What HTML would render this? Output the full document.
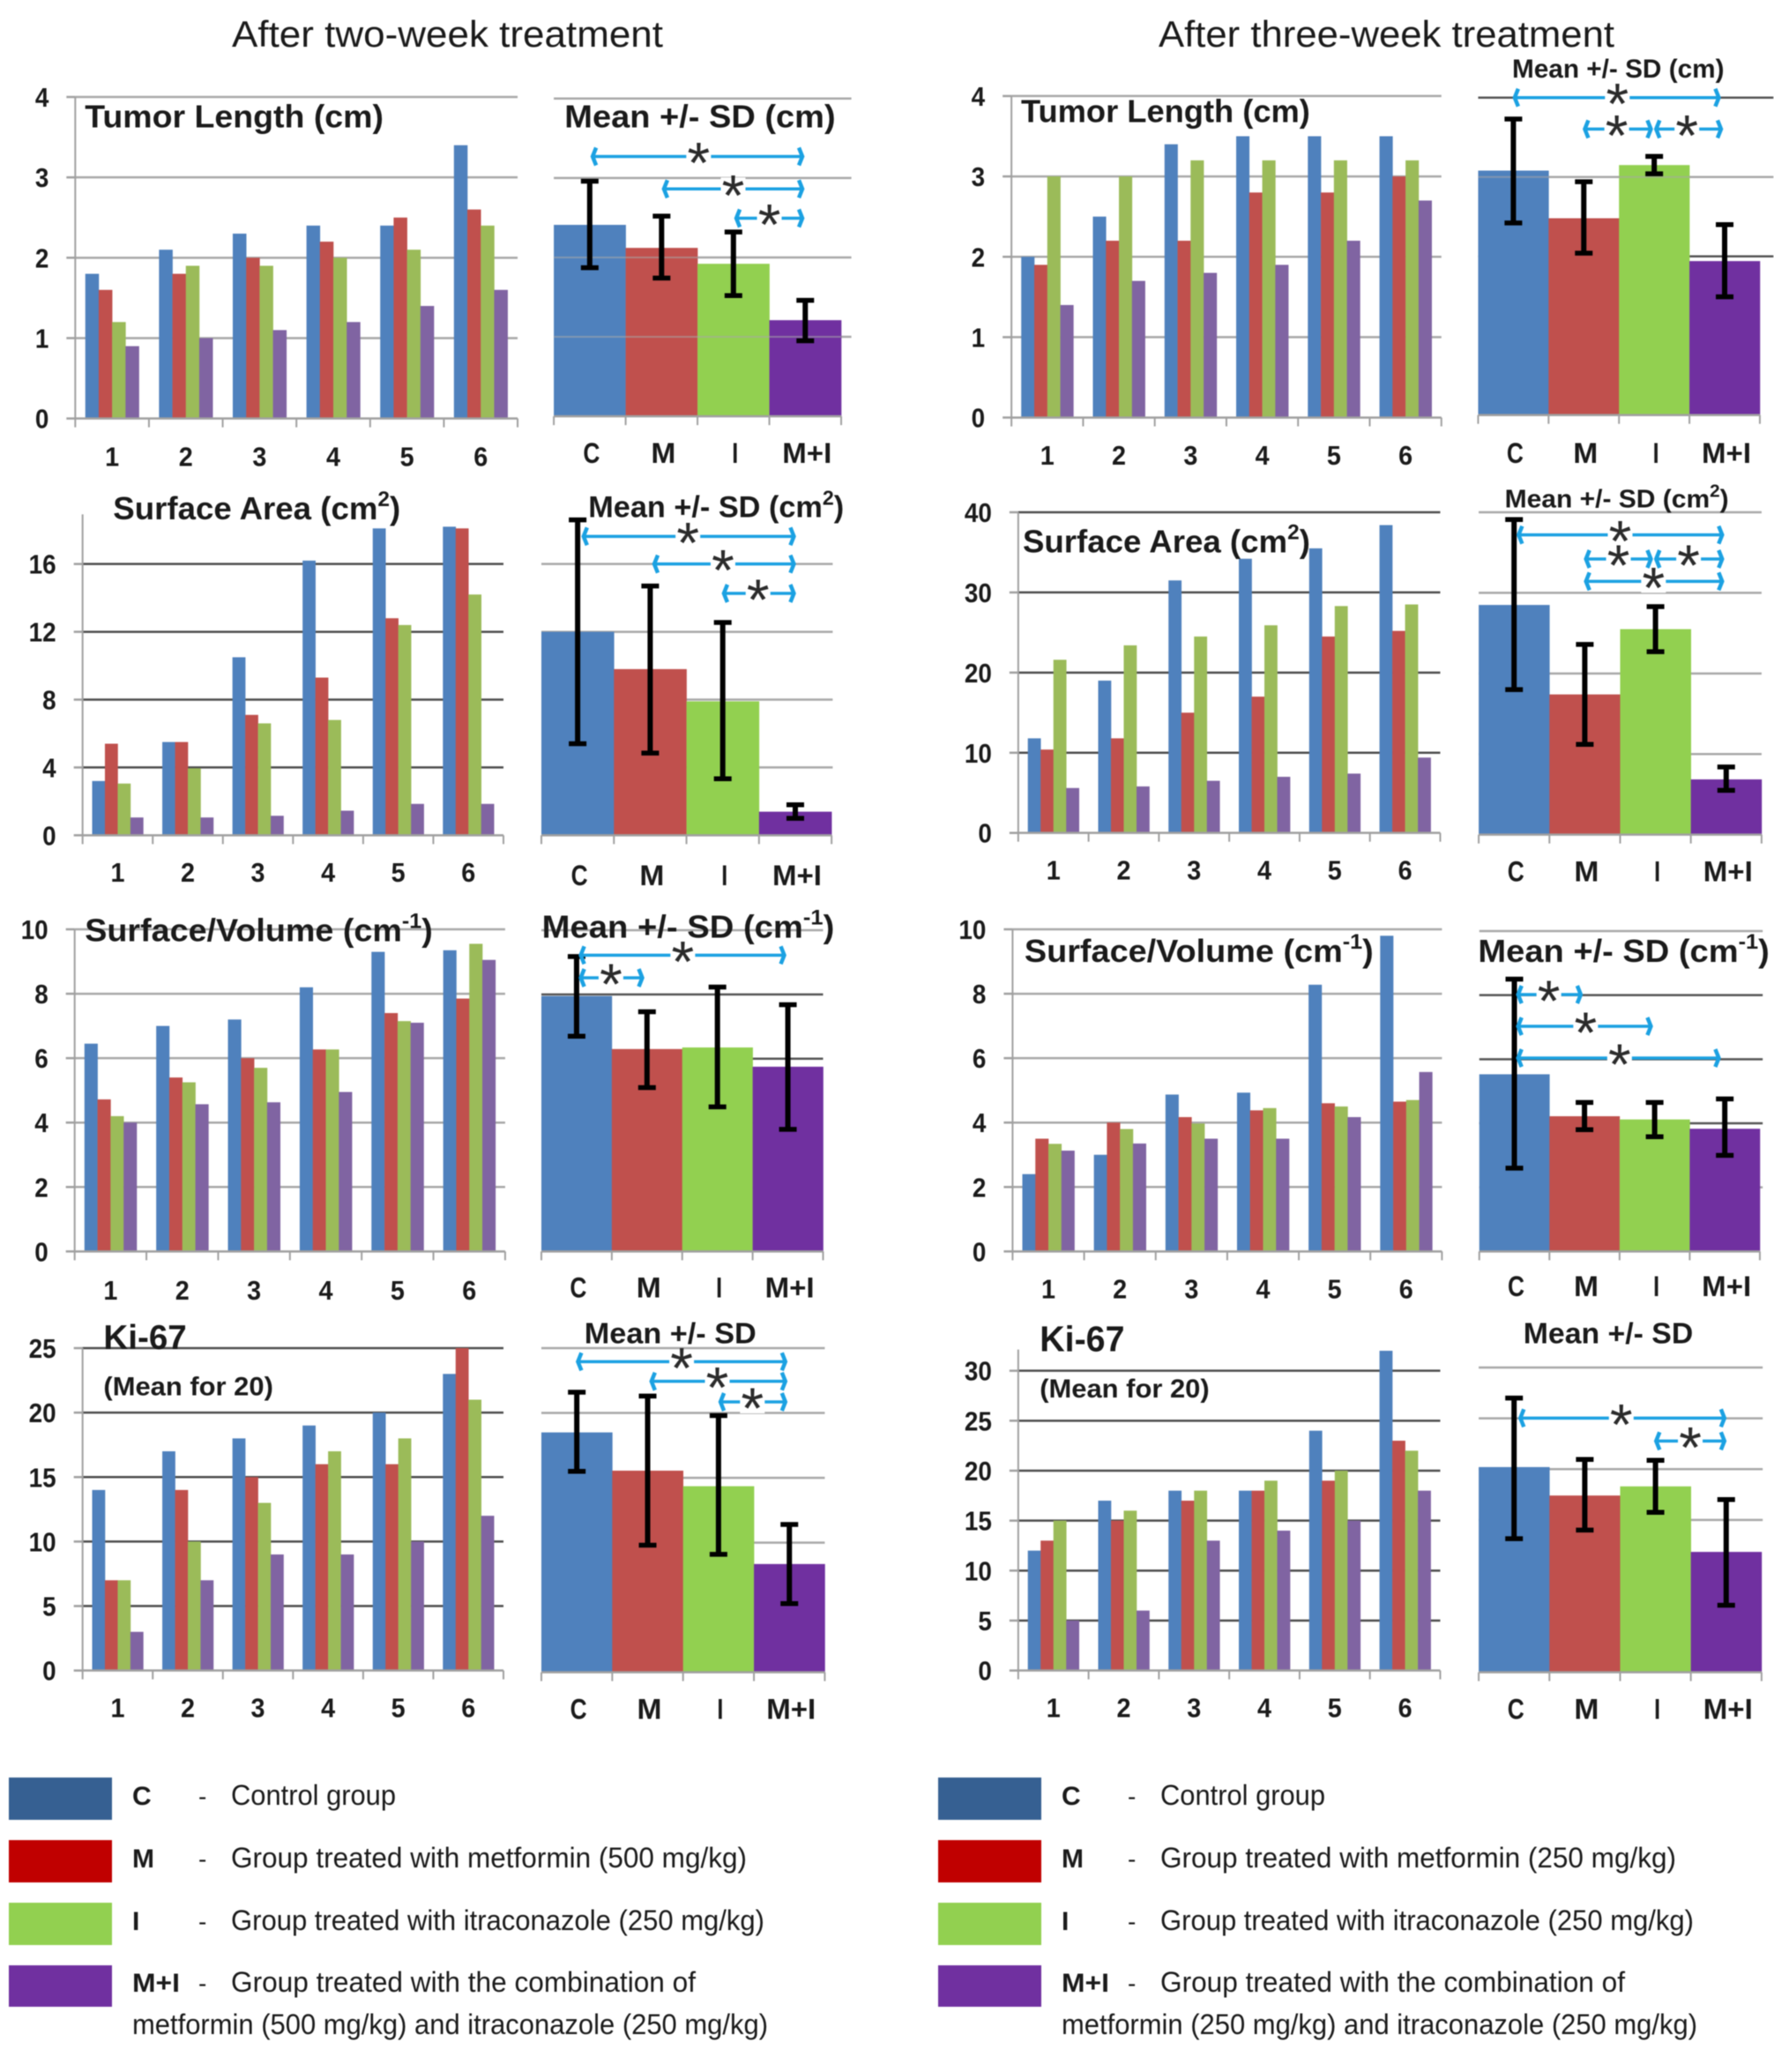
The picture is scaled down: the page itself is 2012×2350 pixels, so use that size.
<!DOCTYPE html>
<html lang="en">
<head>
<meta charset="utf-8">
<title>Tumor measurements after two-week and three-week treatment</title>
<style>
html,body{margin:0;padding:0;background:#fff;}
svg{display:block;filter:blur(0.6px);}
text{font-family:"Liberation Sans",sans-serif;fill:#1a1a1a;}
</style>
</head>
<body>
<svg id="fig" xmlns="http://www.w3.org/2000/svg" width="2012" height="2350" viewBox="0 0 2012 2350">
  <rect x="0" y="0" width="2012" height="2350" fill="#fff"/>
  <text x="263" y="53" font-size="42" textLength="489" lengthAdjust="spacingAndGlyphs">After two-week treatment</text>
  <text x="1314" y="53" font-size="42" textLength="517" lengthAdjust="spacingAndGlyphs">After three-week treatment</text>

  <g>
    <rect x="10" y="2016" width="117" height="48" fill="#366092"/>
    <rect x="10" y="2087" width="117" height="48" fill="#C00000"/>
    <rect x="10" y="2158" width="117" height="48" fill="#92D050"/>
    <rect x="10" y="2229" width="117" height="47" fill="#7030A0"/>
    <text x="150" y="2047" font-size="30" font-weight="bold">C</text>
    <text x="150" y="2118" font-size="30" font-weight="bold">M</text>
    <text x="150" y="2189" font-size="30" font-weight="bold">I</text>
    <text x="150" y="2259" font-size="30" font-weight="bold" textLength="54" lengthAdjust="spacingAndGlyphs">M+I</text>
    <text x="225" y="2047" font-size="28">-</text>
    <text x="225" y="2118" font-size="28">-</text>
    <text x="225" y="2189" font-size="28">-</text>
    <text x="225" y="2259" font-size="28">-</text>
    <text x="262" y="2047" font-size="32" textLength="187" lengthAdjust="spacingAndGlyphs">Control group</text>
    <text x="262" y="2118" font-size="32" textLength="585" lengthAdjust="spacingAndGlyphs">Group treated with metformin (500 mg/kg)</text>
    <text x="262" y="2189" font-size="32" textLength="605" lengthAdjust="spacingAndGlyphs">Group treated with itraconazole (250 mg/kg)</text>
    <text x="262" y="2259" font-size="32" textLength="527" lengthAdjust="spacingAndGlyphs">Group treated with the combination of</text>
    <text x="150" y="2307" font-size="32" textLength="721" lengthAdjust="spacingAndGlyphs">metformin (500 mg/kg) and itraconazole (250 mg/kg)</text>
  </g>
  <g transform="translate(1054,0)">
    <rect x="10" y="2016" width="117" height="48" fill="#366092"/>
    <rect x="10" y="2087" width="117" height="48" fill="#C00000"/>
    <rect x="10" y="2158" width="117" height="48" fill="#92D050"/>
    <rect x="10" y="2229" width="117" height="47" fill="#7030A0"/>
    <text x="150" y="2047" font-size="30" font-weight="bold">C</text>
    <text x="150" y="2118" font-size="30" font-weight="bold">M</text>
    <text x="150" y="2189" font-size="30" font-weight="bold">I</text>
    <text x="150" y="2259" font-size="30" font-weight="bold" textLength="54" lengthAdjust="spacingAndGlyphs">M+I</text>
    <text x="225" y="2047" font-size="28">-</text>
    <text x="225" y="2118" font-size="28">-</text>
    <text x="225" y="2189" font-size="28">-</text>
    <text x="225" y="2259" font-size="28">-</text>
    <text x="262" y="2047" font-size="32" textLength="187" lengthAdjust="spacingAndGlyphs">Control group</text>
    <text x="262" y="2118" font-size="32" textLength="585" lengthAdjust="spacingAndGlyphs">Group treated with metformin (250 mg/kg)</text>
    <text x="262" y="2189" font-size="32" textLength="605" lengthAdjust="spacingAndGlyphs">Group treated with itraconazole (250 mg/kg)</text>
    <text x="262" y="2259" font-size="32" textLength="527" lengthAdjust="spacingAndGlyphs">Group treated with the combination of</text>
    <text x="150" y="2307" font-size="32" textLength="721" lengthAdjust="spacingAndGlyphs">metformin (250 mg/kg) and itraconazole (250 mg/kg)</text>
  </g>
</svg>
<script>
/* ---------- shared labels ---------- */
const mouseIds = ['1','2','3','4','5','6'];
const groupLabels = ['C','M','I','M+I'];

/* ---------- tick labels ---------- */
const ticksLength = [0,1,2,3,4];
const ticksAreaW2 = [0,4,8,12,16];
const ticksAreaW3 = [0,10,20,30,40];
const ticksRatio = [0,2,4,6,8,10];
const ticksKiW2 = [0,5,10,15,20,25];
const ticksKiW3 = [0,5,10,15,20,25,30];

/* ---------- tumor length, week 2 ---------- */
const lenW2C = [1.8,2.1,2.3,2.4,2.4,3.4];
const lenW2M = [1.6,1.8,2.0,2.2,2.5,2.6];
const lenW2I = [1.2,1.9,1.9,2.0,2.1,2.4];
const lenW2MI = [0.9,1.0,1.1,1.2,1.4,1.6];
const lenW2Mean = [2.41,2.12,1.92,1.21];
const lenW2High = [2.96,2.52,2.32,1.46];
const lenW2Low = [1.87,1.74,1.52,0.95];

/* ---------- tumor length, week 3 ---------- */
const lenW3C = [2.0,2.5,3.4,3.5,3.5,3.5];
const lenW3M = [1.9,2.2,2.2,2.8,2.8,3.0];
const lenW3I = [3.0,3.0,3.2,3.2,3.2,3.2];
const lenW3MI = [1.4,1.7,1.8,1.9,2.2,2.7];
const lenW3Mean = [3.08,2.48,3.15,1.94];
const lenW3High = [3.73,2.94,3.26,2.40];
const lenW3Low = [2.42,2.04,3.04,1.49];

/* ---------- surface area, week 2 ---------- */
const areaW2C = [3.2,5.5,10.5,16.2,18.1,18.2];
const areaW2M = [5.4,5.5,7.1,9.3,12.8,18.1];
const areaW2I = [3.05,3.95,6.6,6.8,12.4,14.2];
const areaW2MI = [1.05,1.05,1.15,1.45,1.85,1.85];
const areaW2Mean = [12.0,9.8,7.9,1.39];
const areaW2High = [18.6,14.7,12.55,1.8];
const areaW2Low = [5.4,4.85,3.33,1.0];

/* ---------- surface area, week 3 ---------- */
const areaW3C = [11.8,19,31.5,34.2,35.5,38.4];
const areaW3M = [10.4,11.8,15,17,24.5,25.2];
const areaW3I = [21.6,23.4,24.5,25.9,28.3,28.5];
const areaW3MI = [5.6,5.8,6.5,7,7.4,9.4];
const areaW3Mean = [28.5,17.4,25.5,6.86];
const areaW3High = [39.1,23.6,28.3,8.4];
const areaW3Low = [18,11.2,22.7,5.5];

/* ---------- surface/volume, week 2 ---------- */
const ratioW2C = [6.45,7.0,7.2,8.2,9.3,9.35];
const ratioW2M = [4.72,5.4,6.0,6.27,7.4,7.85];
const ratioW2I = [4.2,5.25,5.7,6.27,7.15,9.55];
const ratioW2MI = [4.0,4.57,4.63,4.95,7.1,9.05];
const ratioW2Mean = [7.95,6.3,6.35,5.75];
const ratioW2High = [9.18,7.46,8.23,7.68];
const ratioW2Low = [6.7,5.1,4.5,3.8];

/* ---------- surface/volume, week 3 ---------- */
const ratioW3C = [2.4,3.0,4.87,4.93,8.28,9.8];
const ratioW3M = [3.5,4.0,4.17,4.38,4.6,4.65];
const ratioW3I = [3.34,3.8,3.97,4.45,4.5,4.7];
const ratioW3MI = [3.13,3.35,3.5,3.5,4.17,5.57];
const ratioW3Mean = [5.53,4.22,4.12,3.83];
const ratioW3High = [8.5,4.65,4.65,4.76];
const ratioW3Low = [2.6,3.8,3.58,3.0];

/* ---------- Ki-67, week 2 ---------- */
const kiW2C = [14,17,18,19,20,23];
const kiW2M = [7,14,15,16,16,25];
const kiW2I = [7,10,13,17,18,21];
const kiW2MI = [3,7,9,9,10,12];
const kiW2Mean = [18.5,15.55,14.35,8.35];
const kiW2High = [21.6,21.3,19.8,11.4];
const kiW2Low = [15.5,9.8,9.1,5.3];

/* ---------- Ki-67, week 3 ---------- */
const kiW3C = [12,17,18,18,24,32];
const kiW3M = [13,15,17,18,19,23];
const kiW3I = [15,16,18,19,20,22];
const kiW3MI = [5,6,13,14,15,18];
const kiW3Mean = [20.2,17.4,18.3,11.85];
const kiW3High = [27,20.95,20.87,17];
const kiW3Low = [13.15,14,15.75,6.6];

/* ---------- colours ---------- */
const seriesColors = ['#4F81BD','#C0504D','#9BBB59','#8064A2'];
const meanColors = ['#4F81BD','#C0504D','#92D050','#7030A0'];
const GRID_LIGHT = '#a8a8a8';
const GRID_DARK = '#4d4d4d';
const ARROW = '#1BA1E2';

/* Layout is stated in the coordinates of a 1568px-wide crop of each half, then mapped to the page. */
const FX = 1568/1006;
const panels = [
 {name:'length-week2',ox:0,oy:0,fy:2.8,ticks:ticksLength,grid:GRID_LIGHT,
  x0:133,x1:915,y0:1329,yTop:308,vTop:4,axisTop:308,catY:1480,
  series:[lenW2C,lenW2M,lenW2I,lenW2MI],
  bx0:979,bx1:1487,by0:1322,byTop:313,bvTop:4,gridEnd:1505,bTicks:[1,2,3,4],dark:[],over:[1,2],labelY:1470,
  mean:lenW2Mean,high:lenW2High,low:lenW2Low,
  arrows:[[1046,1420,497,1235],[1172,1420,600,1296],[1300,1420,693,1360]],
  titles:[{t:'Tumor Length (cm)',x1:150,x2:678,y:405,fs:36},{t:'Mean +/- SD (cm)',x1:998,x2:1477,y:405,fs:36}]},
 {name:'length-week3',ox:1006,oy:0,fy:2.8,ticks:ticksLength,grid:GRID_LIGHT,
  x0:220,x1:980,y0:1326,yTop:305,vTop:4,axisTop:305,catY:1475,
  series:[lenW3C,lenW3M,lenW3I,lenW3MI],
  bx0:1045,bx1:1543,by0:1318,byTop:310,bvTop:4,gridEnd:1567,bTicks:[2,3,4],dark:[4,2],over:[3],labelY:1470,
  mean:lenW3Mean,high:lenW3High,low:lenW3Low,
  arrows:[[1108,1472,310,1291],[1232,1352,410,1290],[1358,1476,410,1414]],
  titles:[{t:'Tumor Length (cm)',x1:237,x2:748,y:388,fs:36},{t:'Mean +/- SD (cm)',x1:1105,x2:1480,y:247,fs:30}]},
 {name:'area-week2',ox:0,oy:540,fy:3,ticks:ticksAreaW2,grid:GRID_DARK,
  x0:146,x1:890,y0:1222,yTop:299,vTop:16,axisTop:130,catY:1380,
  series:[areaW2C,areaW2M,areaW2I,areaW2MI],
  bx0:957,bx1:1470,by0:1222,byTop:299,bvTop:16,gridEnd:1472,bTicks:[4,8,12,16],dark:[],over:[],labelY:1392,
  mean:areaW2Mean,high:areaW2High,low:areaW2Low,
  arrows:[[1030,1405,205,1216],[1155,1405,299,1278],[1278,1405,399,1340]],
  titles:[{t:'Surface Area (cm',s:'2',e:')',x1:200,x2:708,y:147,fs:36},{t:'Mean +/- SD (cm',s:'2',e:')',x1:1040,x2:1492,y:140,fs:34}]},
 {name:'area-week3',ox:1006,oy:540,fy:3,ticks:ticksAreaW3,grid:GRID_DARK,
  x0:232,x1:978,y0:1214,yTop:123,vTop:40,axisTop:123,catY:1372,
  series:[areaW3C,areaW3M,areaW3I,areaW3MI],
  bx0:1046,bx1:1546,by0:1220,byTop:123,bvTop:40,gridEnd:1546,bTicks:[10,20,30,40],dark:[],over:[],labelY:1378,
  mean:areaW3Mean,high:areaW3High,low:areaW3Low,
  arrows:[[1115,1478,200,1296],[1234,1352,282,1293],[1358,1478,282,1417],[1234,1478,358,1355]],
  titles:[{t:'Surface Area (cm',s:'2',e:')',x1:240,x2:748,y:260,fs:36},{t:'Mean +/- SD (cm',s:'2',e:')',x1:1092,x2:1488,y:107,fs:29}]},
 {name:'ratio-week2',ox:0,oy:1020,fy:3,ticks:ticksRatio,grid:GRID_LIGHT,
  x0:132,x1:893,y0:1198,yTop:102,vTop:10,axisTop:102,catY:1362,
  series:[ratioW2C,ratioW2M,ratioW2I,ratioW2MI],
  bx0:957,bx1:1455,by0:1198,byTop:105,bvTop:10,gridEnd:1455,bTicks:[2,4,6,8,10],dark:[8,6],over:[],labelY:1355,
  mean:ratioW2Mean,high:ratioW2High,low:ratioW2Low,
  arrows:[[1025,1388,190,1207],[1025,1137,267,1080]],
  titles:[{t:'Surface/Volume (cm',s:'-1',e:')',x1:150,x2:765,y:143,fs:36},{t:'Mean +/- SD (cm',s:'-1',e:')',x1:958,x2:1475,y:130,fs:36}]},
 {name:'ratio-week3',ox:1006,oy:1020,fy:3,ticks:ticksRatio,grid:GRID_LIGHT,
  x0:222,x1:981,y0:1198,yTop:102,vTop:10,axisTop:102,catY:1357,
  series:[ratioW3C,ratioW3M,ratioW3I,ratioW3MI],
  bx0:1047,bx1:1543,by0:1198,byTop:108,bvTop:10,gridEnd:1548,bTicks:[2,4,6,8,10],dark:[8,6,4],over:[],labelY:1350,
  mean:ratioW3Mean,high:ratioW3High,low:ratioW3Low,
  arrows:[[1114,1228,324,1170],[1114,1352,432,1235],[1114,1472,540,1295]],
  titles:[{t:'Surface/Volume (cm',s:'-1',e:')',x1:243,x2:860,y:213,fs:36},{t:'Mean +/- SD (cm',s:'-1',e:')',x1:1045,x2:1560,y:213,fs:36}]},
 {name:'ki67-week2',ox:0,oy:1490,fy:3,ticks:ticksKiW2,grid:GRID_DARK,
  x0:146,x1:890,y0:1214,yTop:117,vTop:25,axisTop:117,catY:1372,
  series:[kiW2C,kiW2M,kiW2I,kiW2MI],
  bx0:957,bx1:1458,by0:1220,byTop:117,bvTop:25,gridEnd:1458,bTicks:[5,10,15,20,25],dark:[],over:[],labelY:1378,
  mean:kiW2Mean,high:kiW2High,low:kiW2Low,
  arrows:[[1020,1390,163,1205],[1150,1390,230,1268],[1272,1390,300,1330]],
  titles:[{t:'Ki-67',x1:183,x2:330,y:120,fs:39},{t:'(Mean for 20)',x1:183,x2:483,y:278,fs:30},{t:'Mean +/- SD',x1:1033,x2:1337,y:100,fs:33}]},
 {name:'ki67-week3',ox:1006,oy:1490,fy:3,ticks:ticksKiW3,grid:GRID_DARK,
  x0:232,x1:978,y0:1214,yTop:194,vTop:30,axisTop:122,catY:1372,
  series:[kiW3C,kiW3M,kiW3I,kiW3MI],
  bx0:1046,bx1:1546,by0:1220,byTop:183,bvTop:30,gridEnd:1548,bTicks:[15,20,25,30],dark:[],over:[],labelY:1378,
  mean:kiW3Mean,high:kiW3High,low:kiW3Low,
  arrows:[[1118,1482,355,1298],[1358,1482,433,1420]],
  titles:[{t:'Ki-67',x1:270,x2:420,y:128,fs:41},{t:'(Mean for 20)',x1:270,x2:570,y:285,fs:30},{t:'Mean +/- SD',x1:1125,x2:1425,y:100,fs:33}]}
];

const NS = 'http://www.w3.org/2000/svg';
const fig = document.getElementById('fig');

function add(parent, tag, attrs, text){
  const el = document.createElementNS(NS, tag);
  for (const k in attrs) el.setAttribute(k, attrs[k]);
  if (text !== undefined) el.textContent = text;
  parent.appendChild(el);
  return el;
}

function drawTitle(g, p, info, mx, my){
  const fs = info.fs;
  const el = add(g, 'text', {x:mx(info.x1), y:my(info.y), 'font-size':fs, 'font-weight':'bold',
    textLength:(info.x2-info.x1)/FX, lengthAdjust:'spacingAndGlyphs'});
  
  
  el.appendChild(document.createTextNode(info.t));
  if (info.s){
    const rise = Math.round(fs*0.42);
    add(el, 'tspan', {dy:-rise, 'font-size':Math.round(fs*0.68)}, info.s);
    add(el, 'tspan', {dy:rise}, info.e);
  }
}

function drawArrow(g, a, mx, my){
  const xa = mx(a[0]), xb = mx(a[1]), y = my(a[2]), sx = mx(a[3]);
  const group = add(g, 'g', {});
  
  
  add(group, 'line', {x1:xa, x2:xb, y1:y, y2:y, stroke:ARROW, 'stroke-width':3.5});
  add(group, 'path', {d:`M${xa+5} ${y-10}L${xa+1} ${y}L${xa+5} ${y+10}`, fill:'none', stroke:ARROW, 'stroke-width':4.5});
  add(group, 'path', {d:`M${xb-5} ${y-10}L${xb-1} ${y}L${xb-5} ${y+10}`, fill:'none', stroke:ARROW, 'stroke-width':4.5});
  add(group, 'rect', {x:sx-14, y:y-13, width:28, height:26, fill:'#fff'});
  const star = add(group, 'text', {x:sx, y:y+30, 'font-size':66, 'text-anchor':'middle', style:'fill:#2b2b2b'}, '*');
  
  
}

panels.forEach(function(p){
  const mx = z => p.ox + z/FX;
  const my = z => p.oy + z/p.fy;
  const g = add(fig, 'g', {});
  
  

  /* ----- per-mouse chart ----- */
  const yScale = v => my(p.y0 + (p.yTop - p.y0) * v / p.vTop);
  const catW = (mx(p.x1) - mx(p.x0)) / mouseIds.length;
  const catX = i => mx(p.x0) + catW * i;
  const barW = catW / 5.5;
  const axisX = mx(p.x0);

  p.ticks.forEach(function(v){
    const y = yScale(v);
    if (v !== 0){
      const gl = add(g, 'line', {x1:axisX, x2:mx(p.x1), y1:y, y2:y, stroke:p.grid, 'stroke-width':2.5});
      
      
    }
    const tk = add(g, 'line', {x1:axisX-10, x2:axisX, y1:y, y2:y, stroke:'#a0a0a0', 'stroke-width':2.5});
    
    
    const lb = add(g, 'text', {x:axisX-30, y:y+11, 'font-size':31, 'font-weight':'bold', 'text-anchor':'end', textLength:String(v).length*15.5, lengthAdjust:'spacingAndGlyphs'}, String(v));
    
    
  });

  p.series.forEach(function(vals, s){
    vals.forEach(function(v, i){
      const top = yScale(v);
      const x = catX(i) + barW*0.75 + barW*s;
      const r = add(g, 'rect', {x:x, y:top, width:barW+0.3, height:yScale(0)-top, fill:seriesColors[s]});
      
      
    });
  });

  const yAxis = add(g, 'line', {x1:axisX, x2:axisX, y1:my(p.axisTop), y2:yScale(0)+10, stroke:'#a0a0a0', 'stroke-width':2});
  
  
  const xAxis = add(g, 'line', {x1:axisX, x2:mx(p.x1), y1:yScale(0), y2:yScale(0), stroke:'#a0a0a0', 'stroke-width':2.5});
  
  

  mouseIds.forEach(function(id, i){
    const tk = add(g, 'line', {x1:catX(i+1), x2:catX(i+1), y1:yScale(0), y2:yScale(0)+10, stroke:'#a0a0a0', 'stroke-width':2});
    
    
    const lb = add(g, 'text', {x:catX(i)+catW/2, y:my(p.catY), 'font-size':31, 'font-weight':'bold', 'text-anchor':'middle', textLength:16, lengthAdjust:'spacingAndGlyphs'}, id);
    
    
  });

  /* ----- mean +/- SD chart ----- */
  const bScale = v => my(p.by0 + (p.byTop - p.by0) * v / p.bvTop);
  const bW = (mx(p.bx1) - mx(p.bx0)) / groupLabels.length;
  const bX = i => mx(p.bx0) + bW * i;

  p.bTicks.forEach(function(v){
    const gl = add(g, 'line', {x1:mx(p.bx0), x2:mx(p.gridEnd), y1:bScale(v), y2:bScale(v),
      stroke:p.dark.indexOf(v) >= 0 ? '#555' : GRID_LIGHT, 'stroke-width':2.5});
    
    
  });

  p.mean.forEach(function(v, i){
    const r = add(g, 'rect', {x:bX(i), y:bScale(v), width:bW+0.3, height:bScale(0)-bScale(v), fill:meanColors[i]});
    
    
  });

  p.over.forEach(function(v){
    const gl = add(g, 'line', {x1:mx(p.bx0), x2:mx(p.bx1), y1:bScale(v), y2:bScale(v), stroke:'#a8a8a8', 'stroke-width':2, opacity:0.55});
    
    
  });

  const bBase = add(g, 'line', {x1:mx(p.bx0), x2:mx(p.bx1), y1:bScale(0), y2:bScale(0), stroke:'#a0a0a0', 'stroke-width':2.5});
  
  

  for (let i = 0; i <= groupLabels.length; i++){
    const tk = add(g, 'line', {x1:bX(i), x2:bX(i), y1:bScale(0), y2:bScale(0)+10, stroke:'#a0a0a0', 'stroke-width':2});
    
    
  }

  groupLabels.forEach(function(lbl, i){
    const lb = add(g, 'text', {x:bX(i)+bW/2+2, y:my(p.labelY), 'font-size':32, 'font-weight':'bold', 'text-anchor':'middle', textLength:[19,28,7,56][i], lengthAdjust:'spacingAndGlyphs'}, lbl);
    
    
  });

  p.mean.forEach(function(v, i){
    const cx = bX(i) + bW/2;
    const eb = add(g, 'g', {stroke:'#000', fill:'none'});
    
    
    add(eb, 'line', {x1:cx, x2:cx, y1:bScale(p.high[i]), y2:bScale(p.low[i]), 'stroke-width':6});
    add(eb, 'line', {x1:cx-10, x2:cx+10, y1:bScale(p.high[i]), y2:bScale(p.high[i]), 'stroke-width':5.5});
    add(eb, 'line', {x1:cx-10, x2:cx+10, y1:bScale(p.low[i]), y2:bScale(p.low[i]), 'stroke-width':5.5});
  });

  p.arrows.forEach(function(a){ drawArrow(g, a, mx, my); });
  p.titles.forEach(function(t){ drawTitle(g, p, t, mx, my); });
});
</script>
</body>
</html>
